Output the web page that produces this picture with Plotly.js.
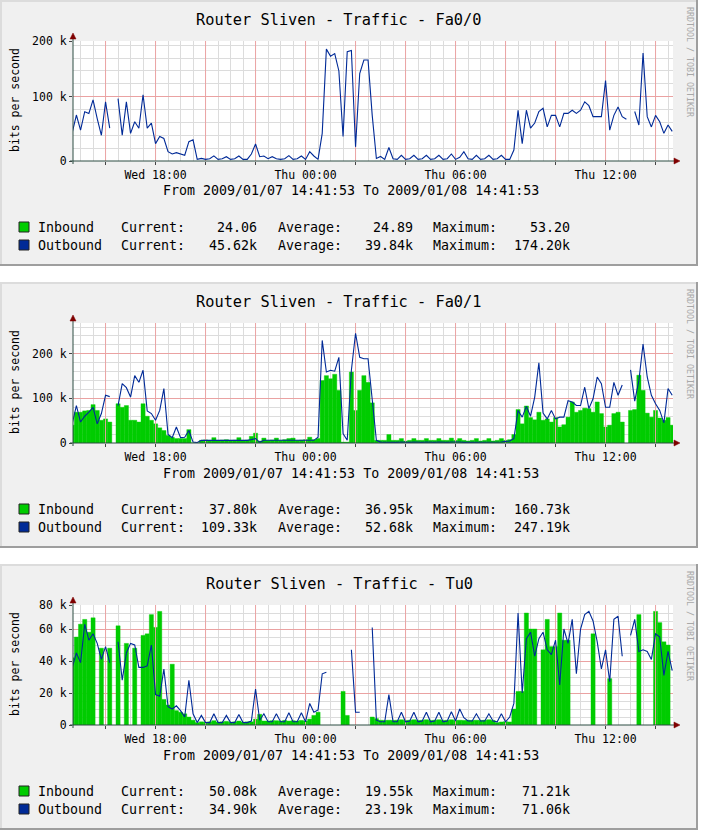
<!DOCTYPE html>
<html>
<head>
<meta charset="utf-8">
<script src="https://cdn.plot.ly/plotly-3.0.1.min.js"></script>
<style>
  html, body { margin: 0; padding: 0; background: #fff; }
  #chart { width: 701px; height: 831px; }
</style>
</head>
<body>
<div id="chart"></div>
<script>
// ---- data (values in k bits per second, one sample every 10 min from Wed 14:40) ----
const SAMPLE_START = Date.UTC(2009, 0, 7, 14, 40);
const SAMPLE_STEP = 10 * 60 * 1000;
const X_RANGE = ["2009-01-07 14:41:53", "2009-01-08 14:41:53"];

// major (red) grid every 2 hours, labels only every 6 hours
const GRID_TIMES = [
    "2009-01-07 16:00", "2009-01-07 18:00", "2009-01-07 20:00", "2009-01-07 22:00",
    "2009-01-08 00:00", "2009-01-08 02:00", "2009-01-08 04:00", "2009-01-08 06:00",
    "2009-01-08 08:00", "2009-01-08 10:00", "2009-01-08 12:00", "2009-01-08 14:00",
];
const MAJOR_TIMES = [
    "Wed 16:00", "Wed 18:00", "Wed 20:00", "Wed 22:00",
    "Thu 00:00", "Thu 02:00", "Thu 04:00", "Thu 06:00",
    "Thu 08:00", "Thu 10:00", "Thu 12:00", "Thu 14:00",
];
const MAJOR_LABELS = ["", "Wed 18:00", "", "", "Thu 00:00", "", "", "Thu 06:00", "", "", "Thu 12:00", ""];

const TITLES = ["Router Sliven - Traffic - Fa0/0", "Router Sliven - Traffic - Fa0/1", "Router Sliven - Traffic - Tu0"];

// Fa0/0 outbound (inbound is only a few bits/s there, nothing visible)
const FA00_OUT = [
    44, 71.5, 48, 76.7, 74, 95, 66, 40, 92, 51, null, 97,
    40, 92, 43, 61, 51, 103, 51, 59, 27, 38, 35, 14.5,
    11, 13, 11, 9, 30, 33, 2.5, 4, 2.5, 3.6, 8, 2.5,
    3.6, 6.7, 2.5, 3.6, 7.8, 2.5, 2.5, 10.9, 26.4, 6.7, 7.8, 3.6,
    6.7, 3.6, 2.5, 3.6, 8.3, 2.5, 3.6, 7.8, 2.5, 14.5, 7.8, 2.5,
    43, 174, 163, 167, 140, 38, 170, 172, 22, 136, 157, 157,
    71, 4, 7, 2.5, 21, 3.6, 2.5, 8.8, 2.5, 3.6, 8.8, 2.5,
    3.6, 8.8, 2.5, 3.6, 8.8, 2.5, 3.6, 10.9, 2.5, 5.7, 14.5, 3.6,
    2.5, 8.8, 2.5, 3.6, 8.8, 2.5, 3.6, 8.8, 2.5, 2.5, 17, 79,
    27, 79, 51, 59, 77, 82, 53, 71, 71, 53, 74, 74,
    79, 74, 79, 92, 86, 69, 69, 69, 125, 48, 71, 84,
    69, 65, null, 77, 56, 168, 69, 53, 71, 61, 43, 56,
    46,
];

const FA01_IN = [
    40, 69, 69, 72, 73, 86, 73, 51, 54, 47, null, 88,
    80, 84, 51, 51, 47, 88, 60, 51, 43, 34, 28, 17,
    13, 10, 10, 10, 30, 0, 0, 6, 7, 6, 12, 6,
    6.7, 7.5, 6, 6.7, 12, 6, 6.7, 15, 22, 4.5, 11, 6,
    6.7, 11, 6, 7.5, 10, 11, 6, 6.7, 7.5, 13, 7.5, 10,
    140, 151, 144, 154, 118, 2, 2, 159, 73, 118, 151, 136,
    90, 6, 6, 6, 19, 6, 6, 10, 4.5, 6, 10, 6,
    6, 10, 6, 6, 10, 6, 6, 11, 6, 10, 6, 4.5,
    6, 10, 4.5, 6, 10, 4.5, 6, 10, 6, 7.5, 19, 75,
    43, 83, 57, 52, 69, 51, 54, 47, 57, 36, 41, 58,
    92, 69, 73, 78, 77, 69, 92, 66, 36, 40, 66, 69,
    47, null, 73, 75, 152, 118, 67, 58, 73, 56, 51, 57,
    40,
];
const FA01_OUT = [
    43, 84, 47, 60, 69, 80, 43, 66, 107, 104, null, 84,
    133, 124, 103, 151, 136, 163, 72, 66, 51, 73, 122, 19,
    12, 36, 12, 13, 28, 2, 1, 6, 6, 5.5, 6.5, 6,
    6, 5.8, 6, 6.2, 6.7, 6, 5.8, 7.5, 10, 1.5, 6, 6,
    5.8, 6, 6, 6.2, 6, 6, 5.8, 6, 6, 6.7, 6, 13,
    230, 159, 163, 161, 192, 21, 6, 163, 246, 192, 189, 189,
    100, 6, 2, 1.5, 2.2, 1.5, 1.5, 2.2, 1.5, 1.5, 2.2, 1.5,
    1.5, 2.2, 1.5, 1.5, 2.2, 1.5, 1.5, 2.4, 1.5, 2.2, 1.5, 1.5,
    1, 1.5, 1.5, 1.5, 1.5, 1.5, 1.5, 2.2, 3.7, 4.5, 10, 73,
    58, 82, 60, 103, 180, 67, 54, 73, 54, 58, 58, 95,
    92, 84, 84, 125, 77, 99, 148, 133, 80, 80, 136, 107,
    130, null, 164, 94, 140, 222, 148, 107, 88, 73, 45, 122,
    107,
];

const TU0_IN = [
    42, 55, 63, 66, 58, 67, null, 48, null, 48, null, 62,
    null, 51, null, 48, null, 56, 57, 69, 61, 71, 16, 12.5,
    38, 9, 8, 7, 5, 3, 1.5, 2, 1.8, 2, 2.7, 1.8,
    2, 2.3, 1.8, 2, 2.5, 1.8, 2, 2, 3.7, 6.7, 2.5, 2.5,
    2.7, 2.7, 2.5, 2.9, 2.5, 2.7, 2.5, 2.9, 2.5, 3.7, 6, 8,
    null, null, null, null, null, 21, 6, null, null, null, null, null,
    5, 4, 3, 2.9, 3, 2.9, 3, 3.3, 2.9, 3, 3.3, 2.9,
    3, 3.3, 2.9, 3, 3.3, 2.9, 3, 3.3, 2.9, 3, 2.9, 3,
    2.9, 3, 2.9, 3, 3.3, 2.9, 1.5, 1.9, 2.1, 1.9, 10, 21,
    21, 70, 60, 60, null, 47, 66, 49, 49, 70, 53, 53,
    null, null, null, null, null, 57, null, null, null, 29, null, null,
    null, null, null, null, 69, null, null, null, 71, 64, 52, 50,
    null,
];
const TU0_OUT = [
    36, 45, 39, 63, 53, 57, 51, 41, 49, 39, null, 52,
    28, 45, 51, 50, 36, 36, 37, 50, 19, 18, 35, 11.5,
    10, 12, 9, 5, 28, 7, 1.5, 6, 1.5, 1.5, 7, 1.5,
    1.5, 6, 1.5, 1.5, 6.5, 1.5, 1.5, 2.5, 22.5, 3, 7, 2,
    2, 7, 2, 2, 7.7, 2, 2, 7.7, 2, 13.5, 8, 9.4,
    32, 33, null, null, null, null, null, 47, 8, 8, null, null,
    61, 3, 2, 2, 19, 2, 2, 8, 2, 2.5, 8, 2,
    2.5, 8, 2, 2.5, 8, 2, 2.5, 8.3, 2.5, 10, 4.6, 2.5,
    2.5, 7, 2.5, 2.5, 7, 2.5, 2, 7, 2, 5, 13.5, 70,
    20, 54, 58, 43, 54, 58, 47, 44, 53, 25, 60, 51,
    66, 32, 60, 69, 71, 65, 52, 35, 47, 27, 66, 68,
    43, null, 56, 66, 46, 47, 46, 41, 57, 55, 31, 46,
    34,
];

// legend figures, as printed under each graph
const IN_STATS = [["24.06", "24.89", "53.20"], ["37.80k", "36.95k", "160.73k"], ["50.08k", "19.55k", "71.21k"]];
const OUT_STATS = [["45.62k", "39.84k", "174.20k"], ["109.33k", "52.68k", "247.19k"], ["34.90k", "23.19k", "71.06k"]];

// y axis per graph
const Y_TOP = [186.6, 269, 75];
const Y_TICKS = [[0, 100, 186.6], [0, 100, 200], [0, 20, 40, 60, 75]];
const Y_TICK_TEXT = [["0", "100 k", "200 k"], ["0", "100 k", "200 k"], ["0", "20 k", "40 k", "60 k", "80 k"]];
const Y_MINOR = [20, 20, 5];

// ---- styling ----
const W = 701, H = 831;
const MONO = "DejaVu Sans Mono";
const GREEN = "#00cc00";
const BLUE = "#002a97";
const MGRID = "#eaa2a2";
const GRID = "#dcdcdc";
const BACK = "#f0f0f0";
const PANEL_STEP = 282;

const px = (x) => x / W;
const py = (y) => 1 - y / H;

function stamp(i) {
    return new Date(SAMPLE_START + i * SAMPLE_STEP).toISOString().slice(0, 19).replace("T", " ");
}
const TIMES = FA00_OUT.map((_, i) => stamp(i));

// hide the 2-hourly labels that rrdtool does not print
const LABEL_ALIAS = {};
MAJOR_TIMES.forEach((t, i) => { if (!MAJOR_LABELS[i]) LABEL_ALIAS[t] = " "; });

const panels = [
    { inbound: null, outbound: FA00_OUT },
    { inbound: FA01_IN, outbound: FA01_OUT },
    { inbound: TU0_IN, outbound: TU0_OUT },
];

const traces = [];
const layout = {
    width: W,
    height: H,
    margin: { l: 0, r: 0, t: 0, b: 0 },
    paper_bgcolor: "#ffffff",
    plot_bgcolor: "#ffffff",
    showlegend: false,
    bargap: 0,
    font: { family: MONO, color: "#000" },
    shapes: [],
    annotations: [],
};

function text(x, y, str, size, extra) {
    layout.annotations.push(Object.assign({
        xref: "paper", yref: "paper", x: px(x), y: py(y),
        text: str, showarrow: false,
        font: { family: MONO, size: size, color: "#000" },
        xanchor: "center", yanchor: "middle",
    }, extra || {}));
}

function rect(x0, y0, x1, y1, fill, layer) {
    layout.shapes.push({ type: "rect", xref: "paper", yref: "paper", layer: layer || "below",
        x0: px(x0), x1: px(x1), y0: py(y1), y1: py(y0), fillcolor: fill, line: { width: 0 } });
}
function line(x0, y0, x1, y1, color, width, layer) {
    layout.shapes.push({ type: "line", xref: "paper", yref: "paper", layer: layer || "above",
        x0: px(x0), x1: px(x1), y0: py(y0), y1: py(y1), line: { color: color, width: width } });
}
function tri(points, color) {
    const d = points.map((p, k) => (k ? "L" : "M") + px(p[0]) + "," + py(p[1])).join(" ") + " Z";
    layout.shapes.push({ type: "path", xref: "paper", yref: "paper", layer: "above",
        path: d, fillcolor: color, line: { color: color, width: 0.5 } });
}

const tickFont = { family: MONO, size: 11.5, color: "#000" };

panels.forEach((p, k) => {
    const oy = PANEL_STEP * k;
    const s = k === 0 ? "" : String(k + 1);
    const oy_id = String(k + 4);

    // gray panel around the white canvas (canvas itself left uncovered)
    rect(0, oy, 698, oy + 41, BACK);
    rect(0, oy + 161, 698, oy + 266, BACK);
    rect(0, oy + 41, 73, oy + 161, BACK);
    rect(673, oy + 41, 698, oy + 161, BACK);
    line(0, oy + 1, 698, oy + 1, "#dcdcdc", 2, "below");
    line(1, oy, 1, oy + 266, "#dcdcdc", 2, "below");
    line(0, oy + 265, 698, oy + 265, "#9e9e9e", 2, "below");
    line(697, oy, 697, oy + 266, "#9e9e9e", 2, "below");

    // time axis: ticks every 2 h, fine grid every 30 min
    layout["xaxis" + s] = {
        type: "date", domain: [px(73), px(673)], range: X_RANGE, anchor: "y" + s,
        tickmode: "linear", tick0: "2009-01-07 16:00", dtick: 7200000,
        tickformat: "%a %H:%M", labelalias: LABEL_ALIAS,
        ticks: "outside", ticklen: 3, tickcolor: "#444", tickfont: tickFont,
        showgrid: false,
        minor: { tick0: "2009-01-07 15:00", dtick: 1800000, showgrid: true, gridcolor: GRID, gridwidth: 1, ticks: "" },
        showline: false, zeroline: false, fixedrange: true,
    };
    // value axis carries the fine grid, its overlay the labels and red grid
    layout["yaxis" + s] = {
        domain: [py(oy + 161), py(oy + 41)], range: [0, Y_TOP[k]], anchor: "x" + s,
        tickmode: "linear", tick0: 0, dtick: Y_MINOR[k],
        showticklabels: false, ticks: "",
        showgrid: true, gridcolor: GRID, gridwidth: 1,
        showline: false, zeroline: false, fixedrange: true,
    };
    layout["yaxis" + oy_id] = {
        overlaying: "y" + s, anchor: "x" + s, side: "left", range: [0, Y_TOP[k]],
        tickmode: "array", tickvals: Y_TICKS[k], ticktext: Y_TICK_TEXT[k],
        ticks: "outside", ticklen: 3, tickcolor: "#444", tickfont: tickFont,
        showgrid: true, gridcolor: MGRID, gridwidth: 1,
        showline: false, zeroline: false, fixedrange: true,
    };
    traces.push({ type: "scatter", mode: "lines", x: [], y: [], xaxis: "x" + s, yaxis: "y" + oy_id, hoverinfo: "skip" });

    // red 2-hour grid as the first (lowest) trace of the subplot
    const gx = [], gy = [];
    GRID_TIMES.forEach((t) => { gx.push(t, t, null); gy.push(0, Y_TOP[k], null); });
    traces.push({
        type: "scatter", mode: "lines", x: gx, y: gy, connectgaps: false,
        line: { color: MGRID, width: 1 }, xaxis: "x" + s, yaxis: "y" + s, hoverinfo: "skip",
    });

    if (p.inbound) {
        traces.push({
            type: "bar", x: TIMES, y: p.inbound, width: SAMPLE_STEP,
            marker: { color: GREEN, line: { width: 0.4, color: GREEN } },
            xaxis: "x" + s, yaxis: "y" + s, hoverinfo: "skip",
        });
    }
    traces.push({
        type: "scatter", mode: "lines", x: TIMES, y: p.outbound, connectgaps: false,
        line: { color: BLUE, width: 1.1 },
        xaxis: "x" + s, yaxis: "y" + s, hoverinfo: "skip",
    });

    // axes with arrows
    line(70, oy + 161, 676, oy + 161, "#2c4d43", 1);
    line(73, oy + 164, 73, oy + 37, "#2c4d43", 1);
    tri([[680, oy + 161], [674, oy + 158], [674, oy + 164]], "#7f0000");
    tri([[73, oy + 33], [70, oy + 39], [76, oy + 39]], "#7f0000");

    // texts
    text(339, oy + 20, TITLES[k], 15.3);
    text(15, oy + 100, "bits per second", 11.5, { textangle: -90 });
    text(690, oy + 62, "RRDTOOL / TOBI OETIKER", 8.3, { textangle: 90, font: { family: MONO, size: 8.3, color: "#a8a8a8" } });
    text(351, oy + 191, "From 2009/01/07 14:41:53 To 2009/01/08 14:41:53", 13.3);

    const rows = [["Inbound", GREEN, IN_STATS[k]], ["Outbound", BLUE, OUT_STATS[k]]];
    rows.forEach((r, j) => {
        const yy = oy + 227 + 18 * j;
        layout.shapes.push({ type: "rect", xref: "paper", yref: "paper", layer: "above",
            x0: px(19), x1: px(29), y0: py(yy + 5), y1: py(yy - 5),
            fillcolor: r[1], line: { color: "#222", width: 1 } });
        const left = { xanchor: "left" };
        const pad = (v, n) => "\u00a0".repeat(Math.max(0, n - v.length)) + v;
        text(36, yy, r[0], 13.3, left);
        text(119, yy, "Current:", 13.3, left);
        text(199, yy, pad(r[2][0], 7), 13.3, left);
        text(276, yy, "Average:", 13.3, left);
        text(355, yy, pad(r[2][1], 7), 13.3, left);
        text(431, yy, "Maximum:", 13.3, left);
        text(512, yy, pad(r[2][2], 7), 13.3, left);
    });
});

Plotly.newPlot("chart", traces, layout, { displayModeBar: false, staticPlot: true });
</script>
</body>
</html>
